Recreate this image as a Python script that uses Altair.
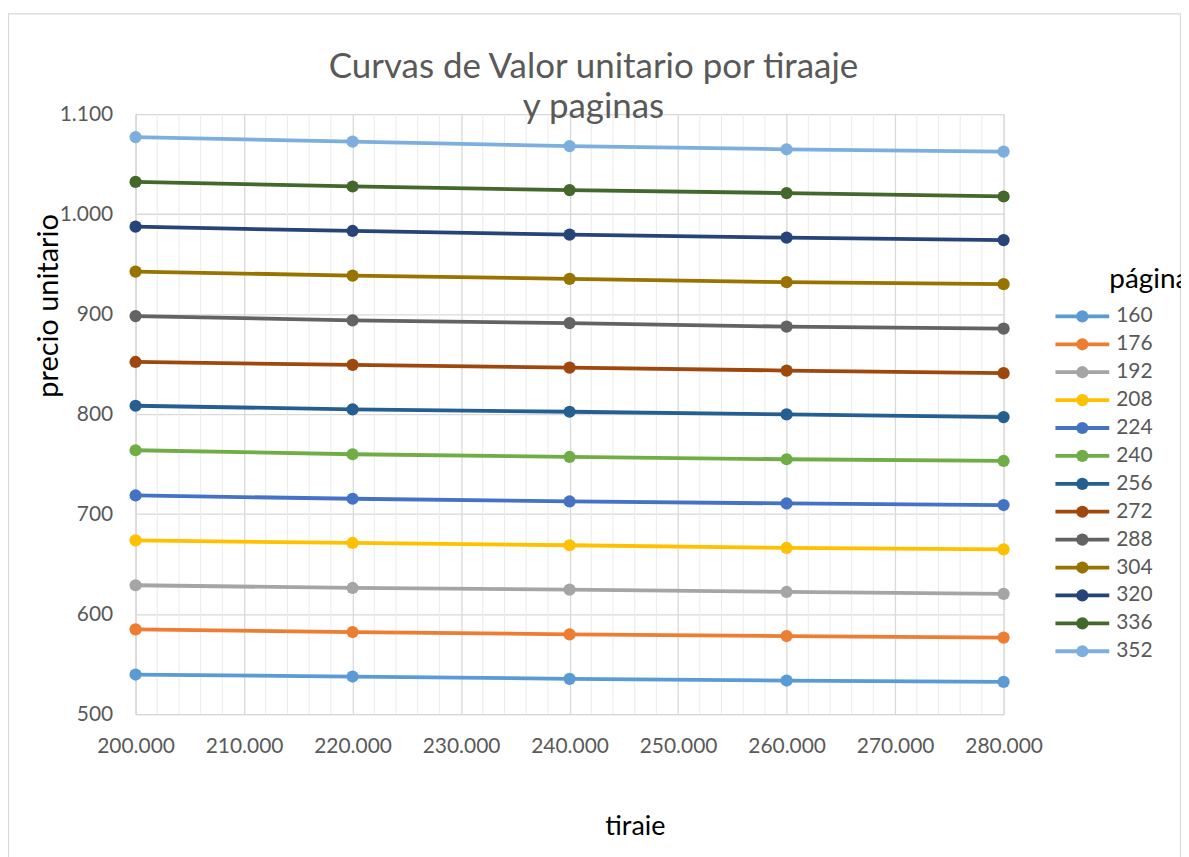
import altair as alt
import pandas as pd

# ---- data ----
tiraje = [200000, 220000, 240000, 260000, 280000]
paginas = ["160", "176", "192", "208", "224", "240", "256", "272", "288", "304", "320", "336", "352"]

p160 = [539.5, 537.5, 535.2, 533.5, 532.2]
p176 = [584.7, 582.0, 579.7, 578.0, 576.4]
p192 = [628.8, 626.1, 624.4, 622.1, 620.2]
p208 = [673.7, 671.1, 668.8, 666.1, 664.7]
p224 = [718.6, 715.3, 712.6, 710.6, 709.0]
p240 = [763.8, 759.8, 757.1, 754.8, 753.1]
p256 = [808.3, 804.7, 802.3, 799.7, 797.0]
p272 = [852.1, 849.2, 846.5, 843.5, 840.9]
p288 = [898.0, 893.7, 891.0, 887.4, 885.4]
p304 = [942.5, 938.5, 935.2, 931.9, 929.9]
p320 = [987.4, 983.1, 979.4, 976.4, 974.0]
p336 = [1032.2, 1027.6, 1024.0, 1021.0, 1017.6]
p352 = [1077.0, 1072.4, 1068.0, 1064.8, 1062.4]

series = [p160, p176, p192, p208, p224, p240, p256, p272, p288, p304, p320, p336, p352]

colores = ["#5B9BD5", "#ED7D31", "#A5A5A5", "#FFC000", "#4472C4", "#70AD47",
           "#255E91", "#9E480E", "#636363", "#997300", "#264478", "#43682B", "#7CAFDD"]

titulo = ["Curvas de Valor unitario por tiraaje", "y paginas"]
titulo_leyenda = "página"
x_ticks = [200000, 210000, 220000, 230000, 240000, 250000, 260000, 270000, 280000]
y_ticks = [500, 600, 700, 800, 900, 1000, 1100]
minor_x = [v for v in range(202000, 280000, 2000) if v % 10000 != 0]

rows = []
for p, vals in zip(paginas, series):
    for t, v in zip(tiraje, vals):
        rows.append({"tiraje": t, "pagina": p, "precio": v})
df = pd.DataFrame(rows)
df_minor = pd.DataFrame({"tiraje": minor_x})
df_one = pd.DataFrame({"k": [0]})
df_leg = pd.DataFrame({"pagina": paginas})

FONT = "Lato"
GREY_TXT = "#595959"
GRID = "#d9d9d9"

x_scale = alt.Scale(domain=[200000, 280000], nice=False, zero=False)
y_scale = alt.Scale(domain=[500, 1100], nice=False, zero=False)
color_scale = alt.Scale(domain=paginas, range=colores)
fmt = "replace(format(datum.value, ','), ',', '.')"

x_axis = alt.Axis(
    values=x_ticks, labelExpr=fmt, grid=True, gridColor=GRID, gridWidth=1.3,
    domain=True, domainColor=GRID, domainWidth=1.3, ticks=False,
    labelFlush=False, labelOverlap=False,
    labelFont=FONT, labelFontSize=21, labelColor=GREY_TXT, labelPadding=22,
    title="tiraie", titleFont=FONT, titleFontSize=27, titleColor="#000000",
    titleFontWeight="normal", titleX=501, titleY=121, titleAlign="center",
    titleBaseline="alphabetic", titleAngle=0,
)
y_axis = alt.Axis(
    values=y_ticks, labelExpr=fmt, grid=True, gridColor=GRID, gridWidth=1.3,
    domain=True, domainColor=GRID, domainWidth=1.3, ticks=False,
    labelFlush=False, labelOverlap=False,
    labelFont=FONT, labelFontSize=21, labelColor=GREY_TXT, labelPadding=23,
    title="precio unitario", titleFont=FONT, titleFontSize=29, titleColor="#000000",
    titleFontWeight="normal", titleX=-78, titleY=192, titleAlign="center",
    titleBaseline="alphabetic", titleAngle=270,
)

# chart-area border
frame = alt.Chart(df_one).mark_rect(
    fillOpacity=0, stroke=GRID, strokeWidth=1.3
).encode(
    x=alt.value(-127.5), x2=alt.value(1048.5), y=alt.value(-100.5), y2=alt.value(760)
)

# two-line chart title
title1 = alt.Chart(df_one).mark_text(
    text=titulo[0], font=FONT, fontSize=35, color=GREY_TXT,
    align="center", baseline="alphabetic"
).encode(x=alt.value(459.5), y=alt.value(-36))
title2 = alt.Chart(df_one).mark_text(
    text=titulo[1], font=FONT, fontSize=35, color=GREY_TXT,
    align="center", baseline="alphabetic"
).encode(x=alt.value(459.5), y=alt.value(4))

# minor vertical gridlines
minor = alt.Chart(df_minor).mark_rule(color="#ebebeb", strokeWidth=1).encode(
    x=alt.X("tiraje:Q", scale=x_scale, axis=x_axis),
    y=alt.value(0), y2=alt.value(602),
)

base = alt.Chart(df)
lines = base.mark_line(strokeWidth=3.8).encode(
    x=alt.X("tiraje:Q", scale=x_scale, axis=x_axis),
    y=alt.Y("precio:Q", scale=y_scale, axis=y_axis),
    color=alt.Color("pagina:N", scale=color_scale, legend=None),
    detail="pagina:N",
)
points = base.mark_point(filled=True, size=150, opacity=1, shape="circle").encode(
    x=alt.X("tiraje:Q", scale=x_scale, axis=x_axis),
    y=alt.Y("precio:Q", scale=y_scale, axis=None),
    color=alt.Color("pagina:N", scale=color_scale, legend=None),
)

# legend (series key) built from the categories
leg_y = alt.Y("pagina:N", scale=alt.Scale(type="point", domain=paginas, range=[203, 539], padding=0), axis=None)
leg_base = alt.Chart(df_leg)
leg_lines = leg_base.mark_rule(strokeWidth=3.8).encode(
    x=alt.value(923), x2=alt.value(977), y=leg_y,
    color=alt.Color("pagina:N", scale=color_scale, legend=None),
)
leg_points = leg_base.mark_point(filled=True, size=150, opacity=1, shape="circle").encode(
    x=alt.value(950), y=leg_y,
    color=alt.Color("pagina:N", scale=color_scale, legend=None),
)
leg_labels = leg_base.mark_text(
    align="left", baseline="middle", font=FONT, fontSize=21, color=GREY_TXT
).encode(x=alt.value(984), y=leg_y, text="pagina:N")
leg_title = alt.Chart(df_one).mark_text(
    text=titulo_leyenda, font=FONT, fontSize=28, color="#000000",
    align="left", baseline="alphabetic"
).encode(x=alt.value(977), y=alt.value(175))

chart = alt.layer(
    frame, minor, lines, points, leg_lines, leg_points, leg_labels, leg_title, title1, title2
).resolve_scale(y="independent").properties(
    width=871, height=602,
    autosize=alt.AutoSizeParams(type="none"),
    padding={"left": 128, "top": 105, "right": 178, "bottom": 142},
).configure_view(strokeWidth=0).configure(background="white")

chart.save("out.html", embed_options={"renderer": "svg", "actions": False})
